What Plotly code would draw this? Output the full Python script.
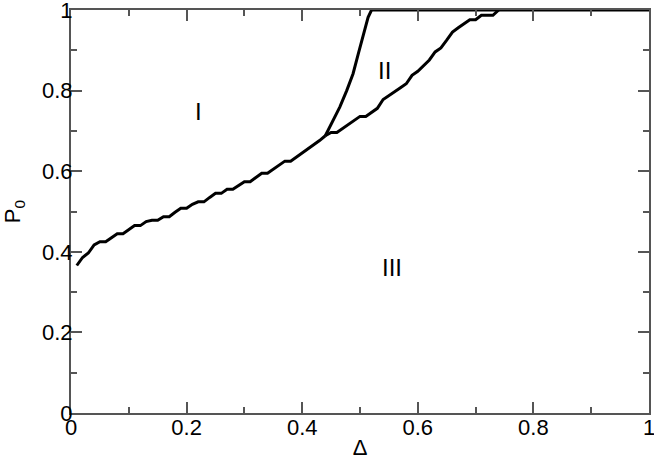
import plotly.graph_objects as go

# lower boundary (I / III), common to both regions up to the junction
delta_low = [0.01, 0.02, 0.03, 0.04, 0.05, 0.06, 0.07, 0.08, 0.09, 0.10,
             0.11, 0.12, 0.13, 0.14, 0.15, 0.16, 0.17, 0.18, 0.19, 0.20,
             0.21, 0.22, 0.23, 0.24, 0.25, 0.26, 0.27, 0.28, 0.29, 0.30,
             0.31, 0.32, 0.33, 0.34, 0.35, 0.36, 0.37, 0.38, 0.39, 0.40,
             0.41, 0.42, 0.43, 0.44]
p0_low = [0.366, 0.386, 0.397, 0.417, 0.425, 0.425, 0.435, 0.445, 0.445, 0.455,
          0.465, 0.465, 0.475, 0.478, 0.478, 0.487, 0.487, 0.498, 0.508, 0.508,
          0.518, 0.524, 0.524, 0.535, 0.545, 0.545, 0.555, 0.555, 0.565, 0.574,
          0.574, 0.585, 0.595, 0.595, 0.605, 0.615, 0.625, 0.625, 0.635, 0.645,
          0.655, 0.665, 0.676, 0.688]

# I / II boundary
delta_upper = [0.44, 0.448, 0.454, 0.465, 0.477, 0.488, 0.497, 0.506, 0.514, 0.52, 1.0]
p0_upper = [0.688, 0.712, 0.726, 0.759, 0.80, 0.842, 0.891, 0.941, 0.982, 1.0, 1.0]

# II / III boundary
delta_mid = [0.44, 0.45, 0.46, 0.47, 0.48, 0.49, 0.50, 0.51, 0.52, 0.53,
             0.54, 0.55, 0.56, 0.57, 0.58, 0.59, 0.60, 0.61, 0.62, 0.63,
             0.64, 0.65, 0.66, 0.67, 0.68, 0.69, 0.70, 0.71, 0.72, 0.73, 0.74]
p0_mid = [0.688, 0.696, 0.696, 0.706, 0.716, 0.726, 0.736, 0.736, 0.746, 0.756,
          0.778, 0.787, 0.797, 0.807, 0.817, 0.838, 0.848, 0.862, 0.876, 0.896,
          0.906, 0.925, 0.945, 0.956, 0.966, 0.976, 0.976, 0.987, 0.987, 0.987, 1.0]

tick_vals = [0, 0.2, 0.4, 0.6, 0.8, 1]
tick_text = ["0", "0.2", "0.4", "0.6", "0.8", "1"]

region_labels = ["I", "II", "III"]
region_x = [0.22, 0.543, 0.556]
region_y = [0.748, 0.849, 0.36]

fig = go.Figure()
line_style = dict(color="black", width=3)
for xs, ys in [(delta_low, p0_low), (delta_upper, p0_upper), (delta_mid, p0_mid)]:
    fig.add_trace(go.Scatter(x=xs, y=ys, mode="lines", line=line_style,
                             showlegend=False, hoverinfo="skip"))

for txt, x, y in zip(region_labels, region_x, region_y):
    fig.add_annotation(x=x, y=y, text=txt, showarrow=False,
                       font=dict(family="Liberation Sans", size=24, color="black"))

axis_style = dict(
    range=[0, 1], tickvals=tick_vals, ticktext=tick_text,
    showgrid=False, zeroline=False, automargin=False,
    showline=True, linecolor="#555", linewidth=2, mirror="ticks",
    ticks="inside", ticklen=11, tickwidth=1.5, tickcolor="#555",
    ticklabeloverflow="allow",
    tickfont=dict(family="Liberation Sans", size=22, color="black"),
    minor=dict(ticks="inside", ticklen=6, tickwidth=1.5, tickcolor="#555",
               tickvals=[0.1, 0.3, 0.5, 0.7, 0.9]),
)

fig.update_layout(
    width=654, height=460,
    margin=dict(l=71, r=5, t=10, b=47),
    paper_bgcolor="white", plot_bgcolor="white",
    font=dict(family="Liberation Sans", color="black"),
    xaxis=dict(axis_style, ticklabelstandoff=-6,
               title=dict(text="Δ", font=dict(size=22), standoff=2)),
    yaxis=dict(axis_style, ticklabelstandoff=-8,
               title=dict(text="P<sub>0</sub>", font=dict(size=22), standoff=23)),
)

# drop the default 8px body margin so the figure sits at the page corner
fig.write_html("out.html", config={"displayModeBar": False},
               post_script="document.body.style.margin='0px';")
